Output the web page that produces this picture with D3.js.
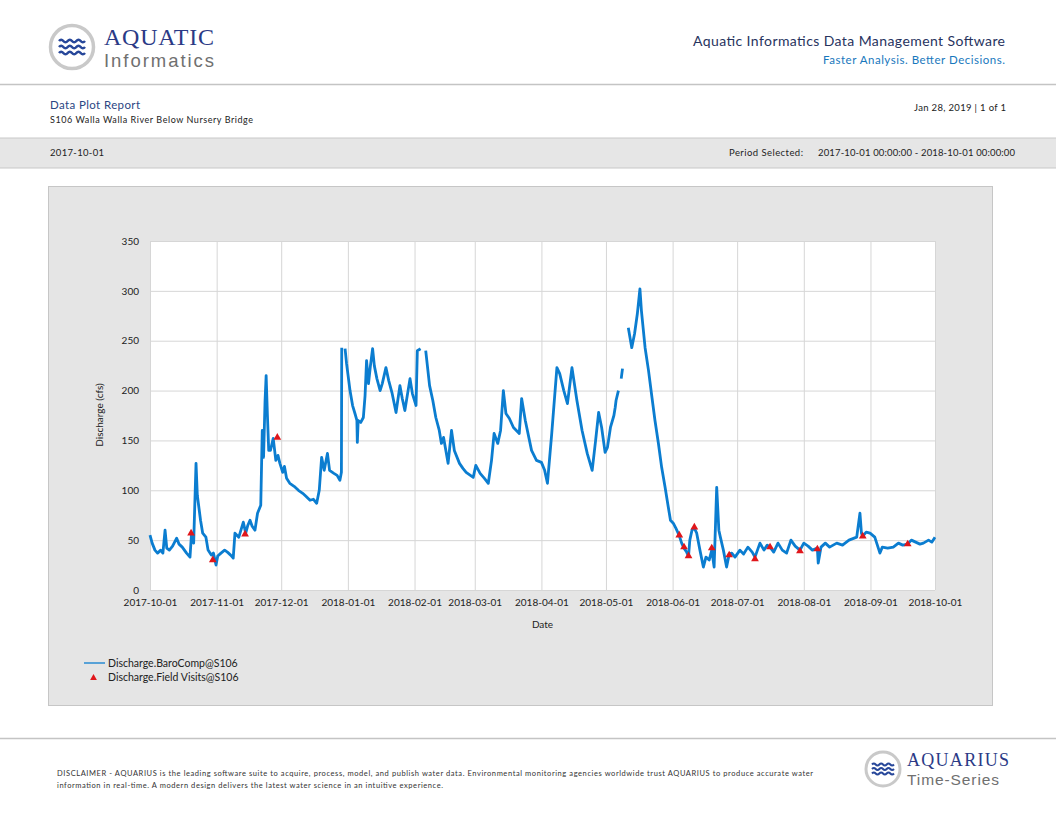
<!DOCTYPE html>
<html>
<head>
<meta charset="utf-8">
<script src="https://cdn.jsdelivr.net/npm/d3@7"></script>
<style>
  body { margin: 0; background: #fff; }
  svg { display: block; }
</style>
</head>
<body>
<script>
// Discharge (cfs), days counted from 2017-10-01 (null = gap)
const startDate = "2017-10-01";
const endDate = "2018-10-01";

const flowDays = [
  // Oct
  0, 1, 2.3, 3.5, 5, 6, 7, 7.8, 9, 10.5, 12.4, 13.5, 15, 17, 18.6, 19.3, 20.3, 21.4, 22, 22.6, 23.5, 24.5, 26, 27, 28.5, 29.5, 30.7,
  // Nov
  31.5, 33, 34.7, 36, 37.5, 38.7, 39.5, 41.3, 43.4, 44.5, 45.5, 46.5, 47.5, 48.8, 50, 51.5, 52.2, 52.8, 53.5, 54, 54.6, 55.2, 56, 57.3, 58.5, 59.5, 60.4,
  // Dec
  61.7, 62.5, 63.5, 65, 67, 69, 71, 72.5, 74.4, 76, 77.5, 78.7, 79.8, 81, 82.5, 83.5, 85.5, 87, 88.3, 89, 89.15, 89.8,
  // Jan
  90.7, 91.4, 93, 94.2, 95.3, 96.2, 96.4, 96.8, 98, 99.2, 100, 100.7, 101.6, 102.5, 103.5, 104.3, 105.5, 107, 108, 109.7, 111, 112.5, 114.4, 116.2, 117.3, 118.5, 120.9, 122,
  // Feb
  123.7, 124.3, 125.8, 127, 128.2, 130, 131.5, 132.9, 134.5, 135.5, 136.5, 138.6, 140.2, 141.5, 143.9, 145.5, 147, 150.3,
  // Mar
  151.5, 153.5, 155.5, 157.3, 158.8, 160, 161.7, 163, 164.3, 165.5, 167.1, 169, 171.7, 172.8, 174.5, 177.4, 179.7,
  // Apr
  182, 183.5, 184.8, 186.8, 189.2, 190.5, 192.4, 194.1, 196.2, 198.5, 200.9, 203.3, 205.6, 207.2, 208.6, 210,
  // May
  211.6, 212.7, 214.1, 215.7, 216.3, 216.7, 217.8, 218.5, 219.1, 219.7, 221, 222.4, 224, 225.3, 226.6, 227.8, 228.5, 230.2, 231.8, 233.4, 234.8, 236.4, 237.9, 239.5, 241, 242,
  // Jun
  243.3, 244.5, 246, 247.2, 248.3, 249.5, 250.4, 251, 252, 253.1, 254.2, 255.7, 257.3, 258.5, 260, 261.2, 262.3, 263.5, 264.5, 265.2, 266.6, 268.1, 269.3, 270.5, 272,
  // Jul
  274.3, 276, 278, 280, 281.3, 283.6, 285.5, 287, 288.3, 290, 292, 294, 296, 298, 300, 302.2,
  // Aug
  304, 306, 308, 310.3, 310.7, 312, 314, 316, 319.3, 322, 325, 328.6, 330.1, 330.8, 331.4, 333,
  // Sep
  334.8, 337, 339.4, 340.5, 343, 345.6, 348, 350, 352.3, 354, 356, 358, 359.6, 362, 363.5, 365
];

const flowValues = [
  // Oct
  55, 47, 40, 37, 40, 37, 60, 42, 40, 44, 52, 46, 43, 37, 33, 56, 47, 127, 95, 85, 70, 57, 53, 40, 35, 37, 25,
  // Nov
  34, 37, 40, 38, 35, 32, 57, 53, 68, 57, 65, 70, 64, 60, 77, 85, 160, 133, 190, 215, 175, 140, 140, 152, 130, 135, 127,
  // Dec
  118, 124, 112, 107, 104, 100, 97, 94, 90, 91, 87, 100, 133, 120, 137, 120, 117, 115, 110, 118, 243, null,
  // Jan
  242, 227, 200, 185, 177, 170, 148, 170, 168, 173, 195, 230, 207, 225, 242, 225, 212, 200, 207, 223, 210, 198, 178, 205, 192, 180, 212, 197,
  // Feb
  185, 240, 242, null, 240, 205, 190, 173, 160, 147, 153, 127, 160, 140, 127, 122, 118, 113,
  // Mar
  125, 117, 112, 107, 130, 157, 147, 160, 200, 177, 172, 163, 157, 192, 170, 140, 130,
  // Apr
  128, 120, 107, 157, 223, 217, 200, 187, 223, 190, 160, 137, 120, 150, 178, 163,
  // May
  138, 143, 163, 175, 183, 190, 200, null, 212, 222, null, 263, 243, 257, 277, 302, 280, 243, 220, 193, 170, 147, 123, 103, 83, 70,
  // Jun
  67, 62, 55, 47, 42, 38, 34, 50, 60, 62, 57, 40, 23, 33, 30, 40, 23, 103, 60, 53, 40, 23, 36, 37, 33,
  // Jul
  40, 36, 43, 38, 33, 47, 40, 45, 43, 38, 47, 40, 37, 50, 44, 40,
  // Aug
  47, 44, 40, 42, 27, 43, 47, 43, 47, 45, 50, 53, 77, 57, 54, 58,
  // Sep
  57, 53, 37, 43, 42, 43, 47, 45, 46, 50, 48, 46, 47, 50, 48, 53
];

// field visits
const visitDays = [19.1, 29.2, 44.2, 59.2, 246.1, 248.3, 250.4, 253.1, 261.2, 269.3, 281.3, 288.3, 302.2, 310.3, 331.4, 352.3];
const visitValues = [57, 30, 56, 153, 55, 43, 34, 63, 42, 35, 31, 43, 39, 41, 54, 46];

const xTickLabels = ["2017-10-01", "2017-11-01", "2017-12-01", "2018-01-01", "2018-02-01", "2018-03-01",
  "2018-04-01", "2018-05-01", "2018-06-01", "2018-07-01", "2018-08-01", "2018-09-01", "2018-10-01"];
const yTicks = [0, 50, 100, 150, 200, 250, 300, 350];

const seriesNames = ["Discharge.BaroComp@S106", "Discharge.Field Visits@S106"];

//   Page
const W = 1056, H = 816;
const lineColor = "#0b7dd0";
const markColor = "#e0161b";
const navy = "#2b3a86";
const font = "Lato, 'Open Sans', sans-serif";

const parse = d3.utcParse("%Y-%m-%d");
const t0 = parse(startDate);
const dayToDate = (d) => new Date(t0.getTime() + d * 86400000);

const flow = flowDays.map((d, i) => ({ date: dayToDate(d), value: flowValues[i] }));
const visits = visitDays.map((d, i) => ({ date: dayToDate(d), value: visitValues[i] }));

const svg = d3.select("body").append("svg")
  .attr("width", W)
  .attr("height", H)
  .style("font-family", font);

//   Header logo
const logo = svg.append("g");
logo.append("circle")
  .attr("cx", 72).attr("cy", 47).attr("r", 21.5)
  .attr("fill", "#fff")
  .attr("stroke", "#c9c9c9")
  .attr("stroke-width", 3.5);

function wave(x0, y0, w, amp, n) {
  const p = d3.path();
  p.moveTo(x0, y0);
  const step = w / (n * 2);
  for (let i = 0; i < n * 2; i++) {
    const sx = x0 + i * step;
    p.quadraticCurveTo(sx + step / 2, y0 + (i % 2 ? amp : -amp), sx + step, y0);
  }
  return p.toString();
}
[41, 47, 53].forEach((y) => {
  logo.append("path")
    .attr("d", wave(59, y, 26, 2.6, 3))
    .attr("fill", "none")
    .attr("stroke", "#27479a")
    .attr("stroke-width", 2.6);
});

logo.append("text")
  .attr("x", 104).attr("y", 45)
  .style("font-family", "'Liberation Serif', 'DejaVu Serif', serif")
  .style("font-size", "24px")
  .attr("fill", navy)
  .attr("textLength", 110)
  .text("AQUATIC");

logo.append("text")
  .attr("x", 104).attr("y", 67)
  .style("font-family", "'Liberation Sans', sans-serif")
  .style("font-size", "18.5px")
  .attr("fill", "#707070")
  .attr("textLength", 110)
  .text("Informatics");

svg.append("text")
  .attr("x", 1005).attr("y", 46)
  .attr("text-anchor", "end")
  .style("font-size", "14px")
  .attr("fill", "#27335e")
  .attr("textLength", 312)
  .text("Aquatic Informatics Data Management Software");

svg.append("text")
  .attr("x", 1005).attr("y", 64)
  .attr("text-anchor", "end")
  .style("font-size", "11.5px")
  .attr("fill", "#1878bd")
  .attr("textLength", 182)
  .text("Faster Analysis. Better Decisions.");

svg.append("line")
  .attr("x1", 0).attr("x2", W)
  .attr("y1", 84.5).attr("y2", 84.5)
  .attr("stroke", "#c4c4c4")
  .attr("stroke-width", 1.5);

//   Report info
svg.append("text")
  .attr("x", 50).attr("y", 109)
  .style("font-size", "11.5px")
  .attr("fill", "#2b4683")
  .attr("textLength", 90)
  .text("Data Plot Report");

svg.append("text")
  .attr("x", 50).attr("y", 123)
  .style("font-size", "9px")
  .attr("fill", "#222")
  .attr("textLength", 203)
  .text("S106 Walla Walla River Below Nursery Bridge");

svg.append("text")
  .attr("x", 1006).attr("y", 111)
  .attr("text-anchor", "end")
  .style("font-size", "9.5px")
  .attr("fill", "#222")
  .attr("textLength", 92)
  .text("Jan 28, 2019 | 1 of 1");

svg.append("rect")
  .attr("x", 0).attr("y", 138)
  .attr("width", W).attr("height", 30)
  .attr("fill", "#e6e6e6");
[138, 168].forEach((y) => {
  svg.append("line")
    .attr("x1", 0).attr("x2", W)
    .attr("y1", y).attr("y2", y)
    .attr("stroke", "#c8c8c8");
});

svg.append("text")
  .attr("x", 50).attr("y", 156)
  .style("font-size", "9.5px")
  .attr("fill", "#222")
  .attr("textLength", 54)
  .text(startDate);

svg.append("text")
  .attr("x", 729).attr("y", 156)
  .style("font-size", "9.5px")
  .attr("fill", "#222")
  .attr("textLength", 74)
  .text("Period Selected:");

svg.append("text")
  .attr("x", 818).attr("y", 156)
  .style("font-size", "9.5px")
  .attr("fill", "#222")
  .attr("textLength", 197)
  .text(startDate + " 00:00:00 - " + endDate + " 00:00:00");

//   Chart panel
svg.append("rect")
  .attr("x", 48.5).attr("y", 186.5)
  .attr("width", 944).attr("height", 519)
  .attr("fill", "#e5e5e5")
  .attr("stroke", "#c6c6c6");

const plot = { left: 150, right: 935, top: 241, bottom: 590 };

const scaleX = d3.scaleUtc()
  .domain([parse(startDate), parse(endDate)])
  .range([plot.left, plot.right]);

const scaleY = d3.scaleLinear()
  .domain([0, 350])
  .range([plot.bottom, plot.top]);

svg.append("rect")
  .attr("x", plot.left).attr("y", plot.top)
  .attr("width", plot.right - plot.left)
  .attr("height", plot.bottom - plot.top)
  .attr("fill", "#fff");

// grid
const xGrid = svg.append("g")
  .attr("transform", "translate(0," + plot.bottom + ")")
  .call(d3.axisBottom(scaleX)
    .tickValues(xTickLabels.map(parse))
    .tickSize(-(plot.bottom - plot.top))
    .tickFormat(""));
xGrid.select(".domain").remove();
xGrid.selectAll("line").attr("stroke", "#d6d6d6");

const yGrid = svg.append("g")
  .attr("transform", "translate(" + plot.left + ",0)")
  .call(d3.axisLeft(scaleY)
    .tickValues(yTicks)
    .tickSize(-(plot.right - plot.left))
    .tickFormat(""));
yGrid.select(".domain").remove();
yGrid.selectAll("line").attr("stroke", "#d6d6d6");

// axes labels
const xAxis = svg.append("g")
  .attr("transform", "translate(0," + plot.bottom + ")")
  .call(d3.axisBottom(scaleX)
    .tickValues(xTickLabels.map(parse))
    .tickSize(0)
    .tickPadding(9)
    .tickFormat(d3.utcFormat("%Y-%m-%d")));
xAxis.select(".domain").remove();
xAxis.selectAll("text")
  .style("font-family", font)
  .style("font-size", "10px")
  .attr("fill", "#222");

const yAxis = svg.append("g")
  .attr("transform", "translate(" + plot.left + ",0)")
  .call(d3.axisLeft(scaleY)
    .tickValues(yTicks)
    .tickSize(0)
    .tickPadding(11));
yAxis.select(".domain").remove();
yAxis.selectAll("text")
  .style("font-family", font)
  .style("font-size", "10px")
  .attr("fill", "#222");

svg.append("text")
  .attr("transform", "translate(103,415) rotate(-90)")
  .attr("text-anchor", "middle")
  .style("font-size", "10px")
  .attr("fill", "#222")
  .text("Discharge (cfs)");

svg.append("text")
  .attr("x", (plot.left + plot.right) / 2).attr("y", 628)
  .attr("text-anchor", "middle")
  .style("font-size", "10px")
  .attr("fill", "#222")
  .text("Date");

//   Series
const line = d3.line()
  .defined((d) => d.value !== null)
  .x((d) => scaleX(d.date))
  .y((d) => scaleY(d.value));

svg.append("path")
  .datum(flow)
  .attr("d", line)
  .attr("fill", "none")
  .attr("stroke", lineColor)
  .attr("stroke-width", 2.8)
  .attr("stroke-linejoin", "round");

const tri = d3.symbol().type(d3.symbolTriangle).size(26);
svg.selectAll(".visit")
  .data(visits)
  .enter()
  .append("path")
  .attr("class", "visit")
  .attr("d", tri)
  .attr("transform", (d) => "translate(" + scaleX(d.date) + "," + scaleY(d.value) + ")")
  .attr("fill", markColor);

//   Legend
const legend = svg.append("g").attr("transform", "translate(84,663)");
legend.append("line")
  .attr("x1", 0).attr("x2", 21)
  .attr("stroke", lineColor)
  .attr("stroke-width", 1.3);
legend.append("path")
  .attr("d", d3.symbol().type(d3.symbolTriangle).size(20))
  .attr("transform", "translate(9.5,15)")
  .attr("fill", markColor);
legend.selectAll(".ltext")
  .data(seriesNames)
  .enter()
  .append("text")
  .attr("class", "ltext")
  .attr("x", 24)
  .attr("y", (d, i) => 4 + i * 14)
  .style("font-size", "10.5px")
  .attr("fill", "#222")
  .text((d) => d);

//   Footer
svg.append("line")
  .attr("x1", 0).attr("x2", W)
  .attr("y1", 738.5).attr("y2", 738.5)
  .attr("stroke", "#c4c4c4")
  .attr("stroke-width", 1.5);

const disclaimer = [
  "DISCLAIMER - AQUARIUS is the leading software suite to acquire, process, model, and publish water data. Environmental monitoring agencies worldwide trust AQUARIUS to produce accurate water",
  "information in real-time. A modern design delivers the latest water science in an intuitive experience."
];
svg.selectAll(".disc")
  .data(disclaimer)
  .enter()
  .append("text")
  .attr("class", "disc")
  .attr("x", 57)
  .attr("y", (d, i) => 776 + i * 12)
  .style("font-size", "7.5px")
  .attr("fill", "#333")
  .attr("textLength", (d, i) => (i === 0 ? 756 : 386))
  .attr("lengthAdjust", "spacing")
  .text((d) => d);

const logo2 = svg.append("g");
logo2.append("circle")
  .attr("cx", 883).attr("cy", 769).attr("r", 17)
  .attr("fill", "#fff")
  .attr("stroke", "#c9c9c9")
  .attr("stroke-width", 3);
[764.5, 769, 773.5].forEach((y) => {
  logo2.append("path")
    .attr("d", wave(872, y, 22, 2, 3))
    .attr("fill", "none")
    .attr("stroke", "#27479a")
    .attr("stroke-width", 2);
});
logo2.append("text")
  .attr("x", 907).attr("y", 766)
  .style("font-family", "'Liberation Serif', 'DejaVu Serif', serif")
  .style("font-size", "18px")
  .attr("fill", navy)
  .attr("textLength", 102)
  .text("AQUARIUS");
logo2.append("text")
  .attr("x", 907).attr("y", 785)
  .style("font-family", "'Liberation Sans', sans-serif")
  .style("font-size", "15.5px")
  .attr("fill", "#707070")
  .attr("textLength", 92)
  .text("Time-Series");
</script>
</body>
</html>
